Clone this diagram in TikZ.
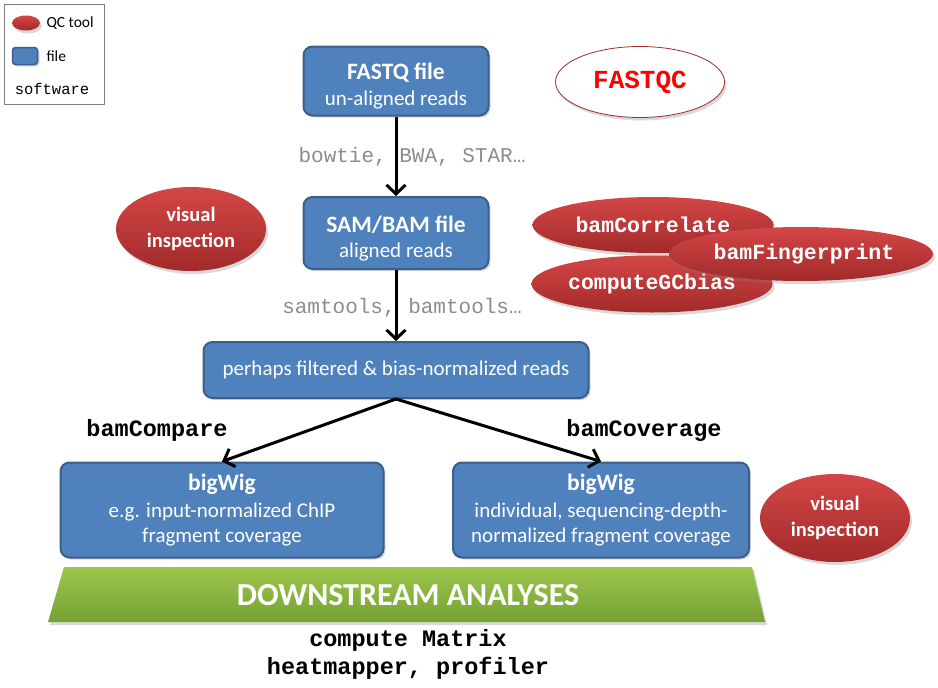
\documentclass[tikz,border=0pt]{standalone}
\usepackage{fontspec}
\setmainfont{Carlito}
\setmonofont{Liberation Mono}
\usetikzlibrary{shapes.geometric, shadows, arrows.meta, positioning}
\definecolor{fileblue}{HTML}{4F81BD}
\definecolor{fileline}{HTML}{3A5F8B}
\definecolor{qctop}{HTML}{D44646}
\definecolor{qcbottom}{HTML}{A22A2A}
\definecolor{dstop}{HTML}{9DC64C}
\definecolor{dsbottom}{HTML}{75A134}
\definecolor{swgray}{HTML}{8C8C8C}
\newcommand{\fsz}[1]{\fontsize{#1}{#1}\selectfont}
\tikzset{
  file/.style={draw=fileline, line width=2pt, fill=fileblue, rounded corners=9pt,
    text=white, align=center, inner sep=0pt,
    drop shadow={opacity=0.3, shadow xshift=2pt, shadow yshift=-2pt}},
  qctool/.style={ellipse, inner sep=0pt, shade, top color=qctop, bottom color=qcbottom,
    text=white, align=center,
    drop shadow={opacity=0.3, shadow xshift=2pt, shadow yshift=-3pt}},
  flow/.style={line width=3pt, -{Straight Barb[length=9pt,width=19pt]}},
  software/.style={text=swgray, font=\ttfamily\fsz{21}},
  tool/.style={font=\ttfamily\bfseries\fsz{23.5}}
}
\begin{document}
\begin{tikzpicture}[x=1pt, y=-1pt]
\useasboundingbox (0,0) rectangle (938,688);

\node[draw=gray, line width=1pt, minimum width=100pt, minimum height=100pt] (legend) at (54,54) {};
\node[qctool, minimum width=28pt, minimum height=15pt] (legqc) at (26,23) {};
\node[file, line width=1.5pt, rounded corners=3pt, minimum width=25pt, minimum height=17pt] (legfile) at (25,56) {};
\node[anchor=west, font=\fsz{15.5}] (legqct) at (43,23) {QC tool};
\node[anchor=west, font=\fsz{15.5}] (legfilet) at (43,56) {file};
\node[font=\ttfamily\fsz{15.5}] (legsw) at (52,89) {software};

\node[file, minimum width=185pt, minimum height=69pt] (fastq) at (396,81)
  {{\rule{0pt}{27pt}\bfseries\fsz{23.5}FASTQ file}\\[8pt]{\fsz{21}un-aligned reads}};
\node[file, minimum width=185pt, minimum height=72pt] (sam) at (396,233)
  {{\rule{0pt}{27pt}\bfseries\fsz{23.5}SAM/BAM file}\\[8pt]{\fsz{21}aligned reads}};
\node[file, minimum width=385pt, minimum height=56pt] (filt) at (396,370)
  {\fsz{21}perhaps filtered \& bias-normalized reads};
\node[file, minimum width=323pt, minimum height=95pt] (bigl) at (222,510)
  {{\bfseries\fsz{23.5}bigWig}\\[7pt]{\fsz{21}e.g. input-normalized ChIP}\\[6pt]{\fsz{21}fragment coverage}};
\node[file, minimum width=296pt, minimum height=95pt] (bigr) at (601,510)
  {{\bfseries\fsz{23.5}bigWig}\\[7pt]{\fsz{21}individual, sequencing-depth-}\\[6pt]{\fsz{21}normalized fragment coverage}};

\draw[flow] (fastq) -- (sam);
\draw[flow] (sam) -- (filt);
\draw[flow] (filt.south) -- (bigl.north);
\draw[flow] (filt.south) -- (bigr.north);

\node[software] (aligners) at (412,157) {bowtie, BWA, STAR…};
\node[software] (samtools) at (402,308) {samtools, bamtools…};
\node[tool] (bamcompare) at (157,430) {bamCompare};
\node[tool] (bamcoverage) at (644,430) {bamCoverage};

\node[ellipse, draw=qcbottom, line width=0.8pt, fill=white, minimum width=169pt, minimum height=71pt,
  text=red, font=\ttfamily\bfseries\fsz{26},
  drop shadow={opacity=0.3, shadow xshift=2pt, shadow yshift=-3pt}] (fastqc) at (640,82) {FASTQC};

\node[qctool, minimum width=150pt, minimum height=84pt, font=\bfseries\fsz{20.5}] (visl) at (191,229)
  {visual\\[5pt]inspection};
\node[qctool, minimum width=150pt, minimum height=88pt, font=\bfseries\fsz{20.5}] (visr) at (835,518)
  {visual\\[5pt]inspection};

\node[qctool, minimum width=241pt, minimum height=56pt, font=\ttfamily\bfseries\fsz{21.5}] (bamcor) at (653,225) {bamCorrelate};
\node[qctool, minimum width=241pt, minimum height=57pt, font=\ttfamily\bfseries\fsz{21.5}] (gcbias) at (652,284) {computeGCbias};
\node[qctool, minimum width=246pt, minimum height=54pt, font=\ttfamily\bfseries\fsz{21.5}] (fingerprint) at (801,254) {\hspace*{6pt}bamFingerprint};

\shade[top color=dstop, bottom color=dsbottom, drop shadow={opacity=0.3, shadow xshift=2pt, shadow yshift=-3pt}]
  (64,567) -- (752,567) -- (765,622) -- (48,622) -- cycle;
\node[text=white, font=\bfseries\fsz{32}] (downstream) at (408,595) {DOWNSTREAM ANALYSES};
\node[tool] (matrix) at (408,640) {compute Matrix};
\node[tool] (plots) at (408,668) {heatmapper, profiler};
\end{tikzpicture}
\end{document}
